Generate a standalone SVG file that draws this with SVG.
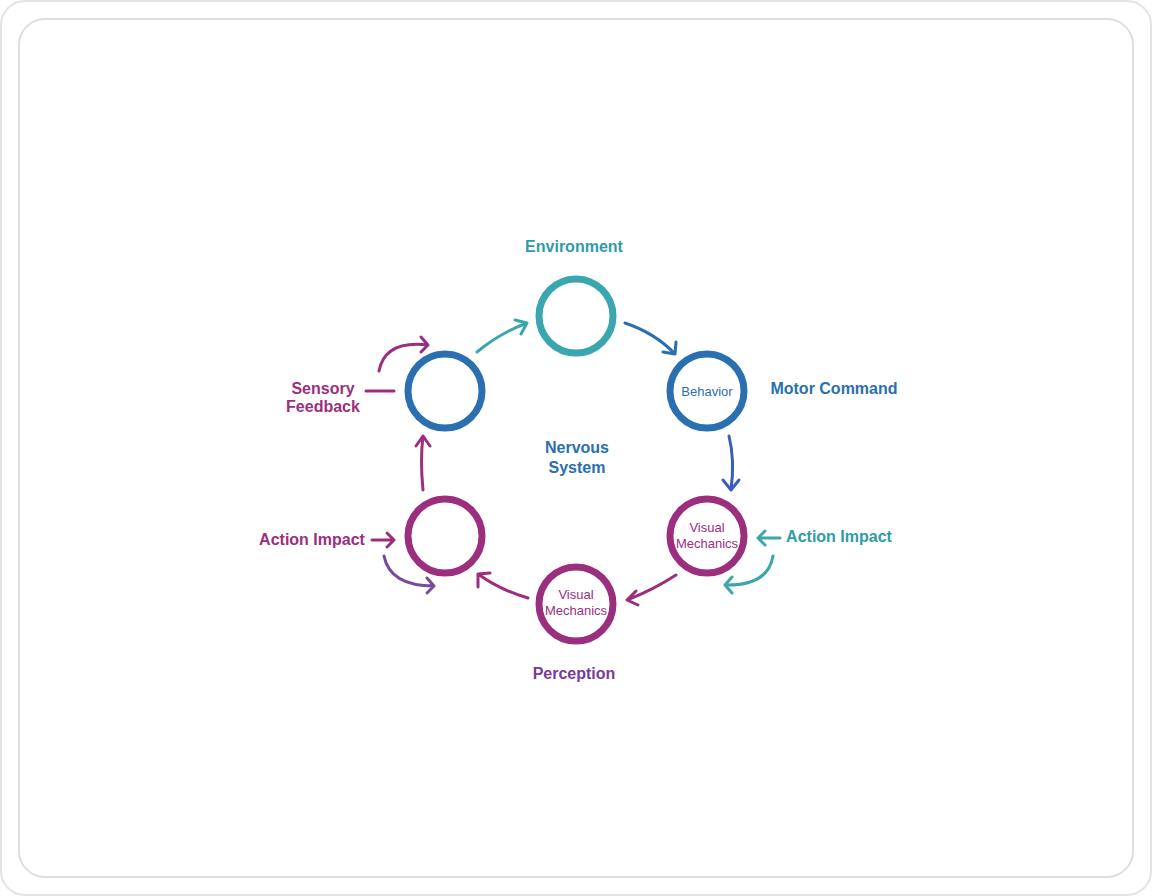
<svg xmlns="http://www.w3.org/2000/svg" width="1152" height="896" viewBox="0 0 1152 896">
<style>
text{font-family:"Liberation Sans",Arial,sans-serif;text-anchor:middle}
.n{fill:none;stroke-width:7}
.c{fill:none;stroke-width:3;stroke-linecap:round;stroke-linejoin:round}
.lb{font-size:16px}
.in{font-size:13px}
</style>
<rect x="1" y="1" width="1150" height="894" rx="24" fill="#fff" stroke="#e4e4e4" stroke-width="2"/>
<rect x="19" y="19" width="1114" height="858" rx="26" fill="#fff" stroke="#dedede" stroke-width="2"/>
<g id="connectors">
<path class="c" stroke="#3aa6ad" d="M477 352 Q500 333 527 323 M515 320 L527 323 L521 334"/>
<path class="c" stroke="#2a6fb0" d="M625 323 Q655 333 675 354 M663 352 L675 354 L676 342"/>
<path class="c" stroke="#3a5fb8" d="M729 436 Q735 460 731 490 M723 480 L731 490 L739 480"/>
<path class="c" stroke="#9b2f7e" d="M676 575 Q653 590 627 600 M636 591 L627 600 L638 605"/>
<path class="c" stroke="#9b2f7e" d="M528 598 Q500 590 478 574 M478 587 L478 574 L490 573"/>
<path class="c" stroke="#9b2f7e" d="M423 490 Q420 460 423 436 M416 446 L423 436 L430 446"/>
<path class="c" stroke="#9b2f7e" d="M379 371 Q385 340 428 345 M421 337 L428 345 L421 352"/>
<path class="c" stroke="#9b2f7e" d="M366 391 L394 391"/>
<path class="c" stroke="#9b2f7e" d="M372 540 L394 540 M387 533 L394 540 L387 547"/>
<path class="c" stroke="#7a4a9a" d="M384 556 Q390 586 434 586 M427 578 L434 586 L427 593"/>
<path class="c" stroke="#3aa6ad" d="M780 538 L758 538 M765 531 L758 538 L765 545"/>
<path class="c" stroke="#3aa6ad" d="M773 556 Q768 586 725 585 M732 577 L725 585 L732 593"/>
</g>
<g id="environment"><circle class="n" stroke="#3aa6ad" cx="576" cy="316" r="37"/><text class="lb" x="574" y="252" fill="#2f9ba6" font-weight="bold" font-size="17">Environment</text></g>
<g id="behavior"><circle class="n" stroke="#2a6fb0" cx="707" cy="391" r="37"/><text class="in" x="707" y="396" fill="#2a6fb0" font-size="14">Behavior</text></g>
<g id="motor"><text class="lb" x="834" y="394" fill="#2a6fb0" font-weight="bold">Motor Command</text></g>
<g id="vm-right"><circle class="n" stroke="#9b2f7e" cx="707" cy="536" r="37"/><text class="in" x="707" y="532" fill="#9b2f7e">Visual</text><text class="in" x="707" y="548" fill="#9b2f7e">Mechanics</text></g>
<g id="action-right"><text class="lb" x="839" y="542" fill="#2f9ba6" font-weight="bold">Action Impact</text></g>
<g id="vm-bottom"><circle class="n" stroke="#9b2f7e" cx="576" cy="604" r="37"/><text class="in" x="576" y="599" fill="#9b2f7e">Visual</text><text class="in" x="576" y="615" fill="#9b2f7e">Mechanics</text></g>
<g id="perception"><text class="lb" x="574" y="679" fill="#7a3a9a" font-weight="bold" font-size="17">Perception</text></g>
<g id="left-bottom"><circle class="n" stroke="#9b2f7e" cx="445" cy="536" r="37"/></g>
<g id="action-left"><text class="lb" x="312" y="545" fill="#9b2f7e" font-weight="bold" font-size="15">Action Impact</text></g>
<g id="left-top"><circle class="n" stroke="#2a6fb0" cx="445" cy="391" r="37"/></g>
<g id="sensory"><text class="lb" x="323" y="394" fill="#9b2f7e" font-weight="bold" font-size="15">Sensory</text><text class="lb" x="323" y="412" fill="#9b2f7e" font-weight="bold" font-size="15">Feedback</text></g>
<g id="nervous"><text class="lb" x="577" y="453" fill="#2a6fb0" font-weight="bold">Nervous</text><text class="lb" x="577" y="473" fill="#2a6fb0" font-weight="bold">System</text></g>
</svg>
